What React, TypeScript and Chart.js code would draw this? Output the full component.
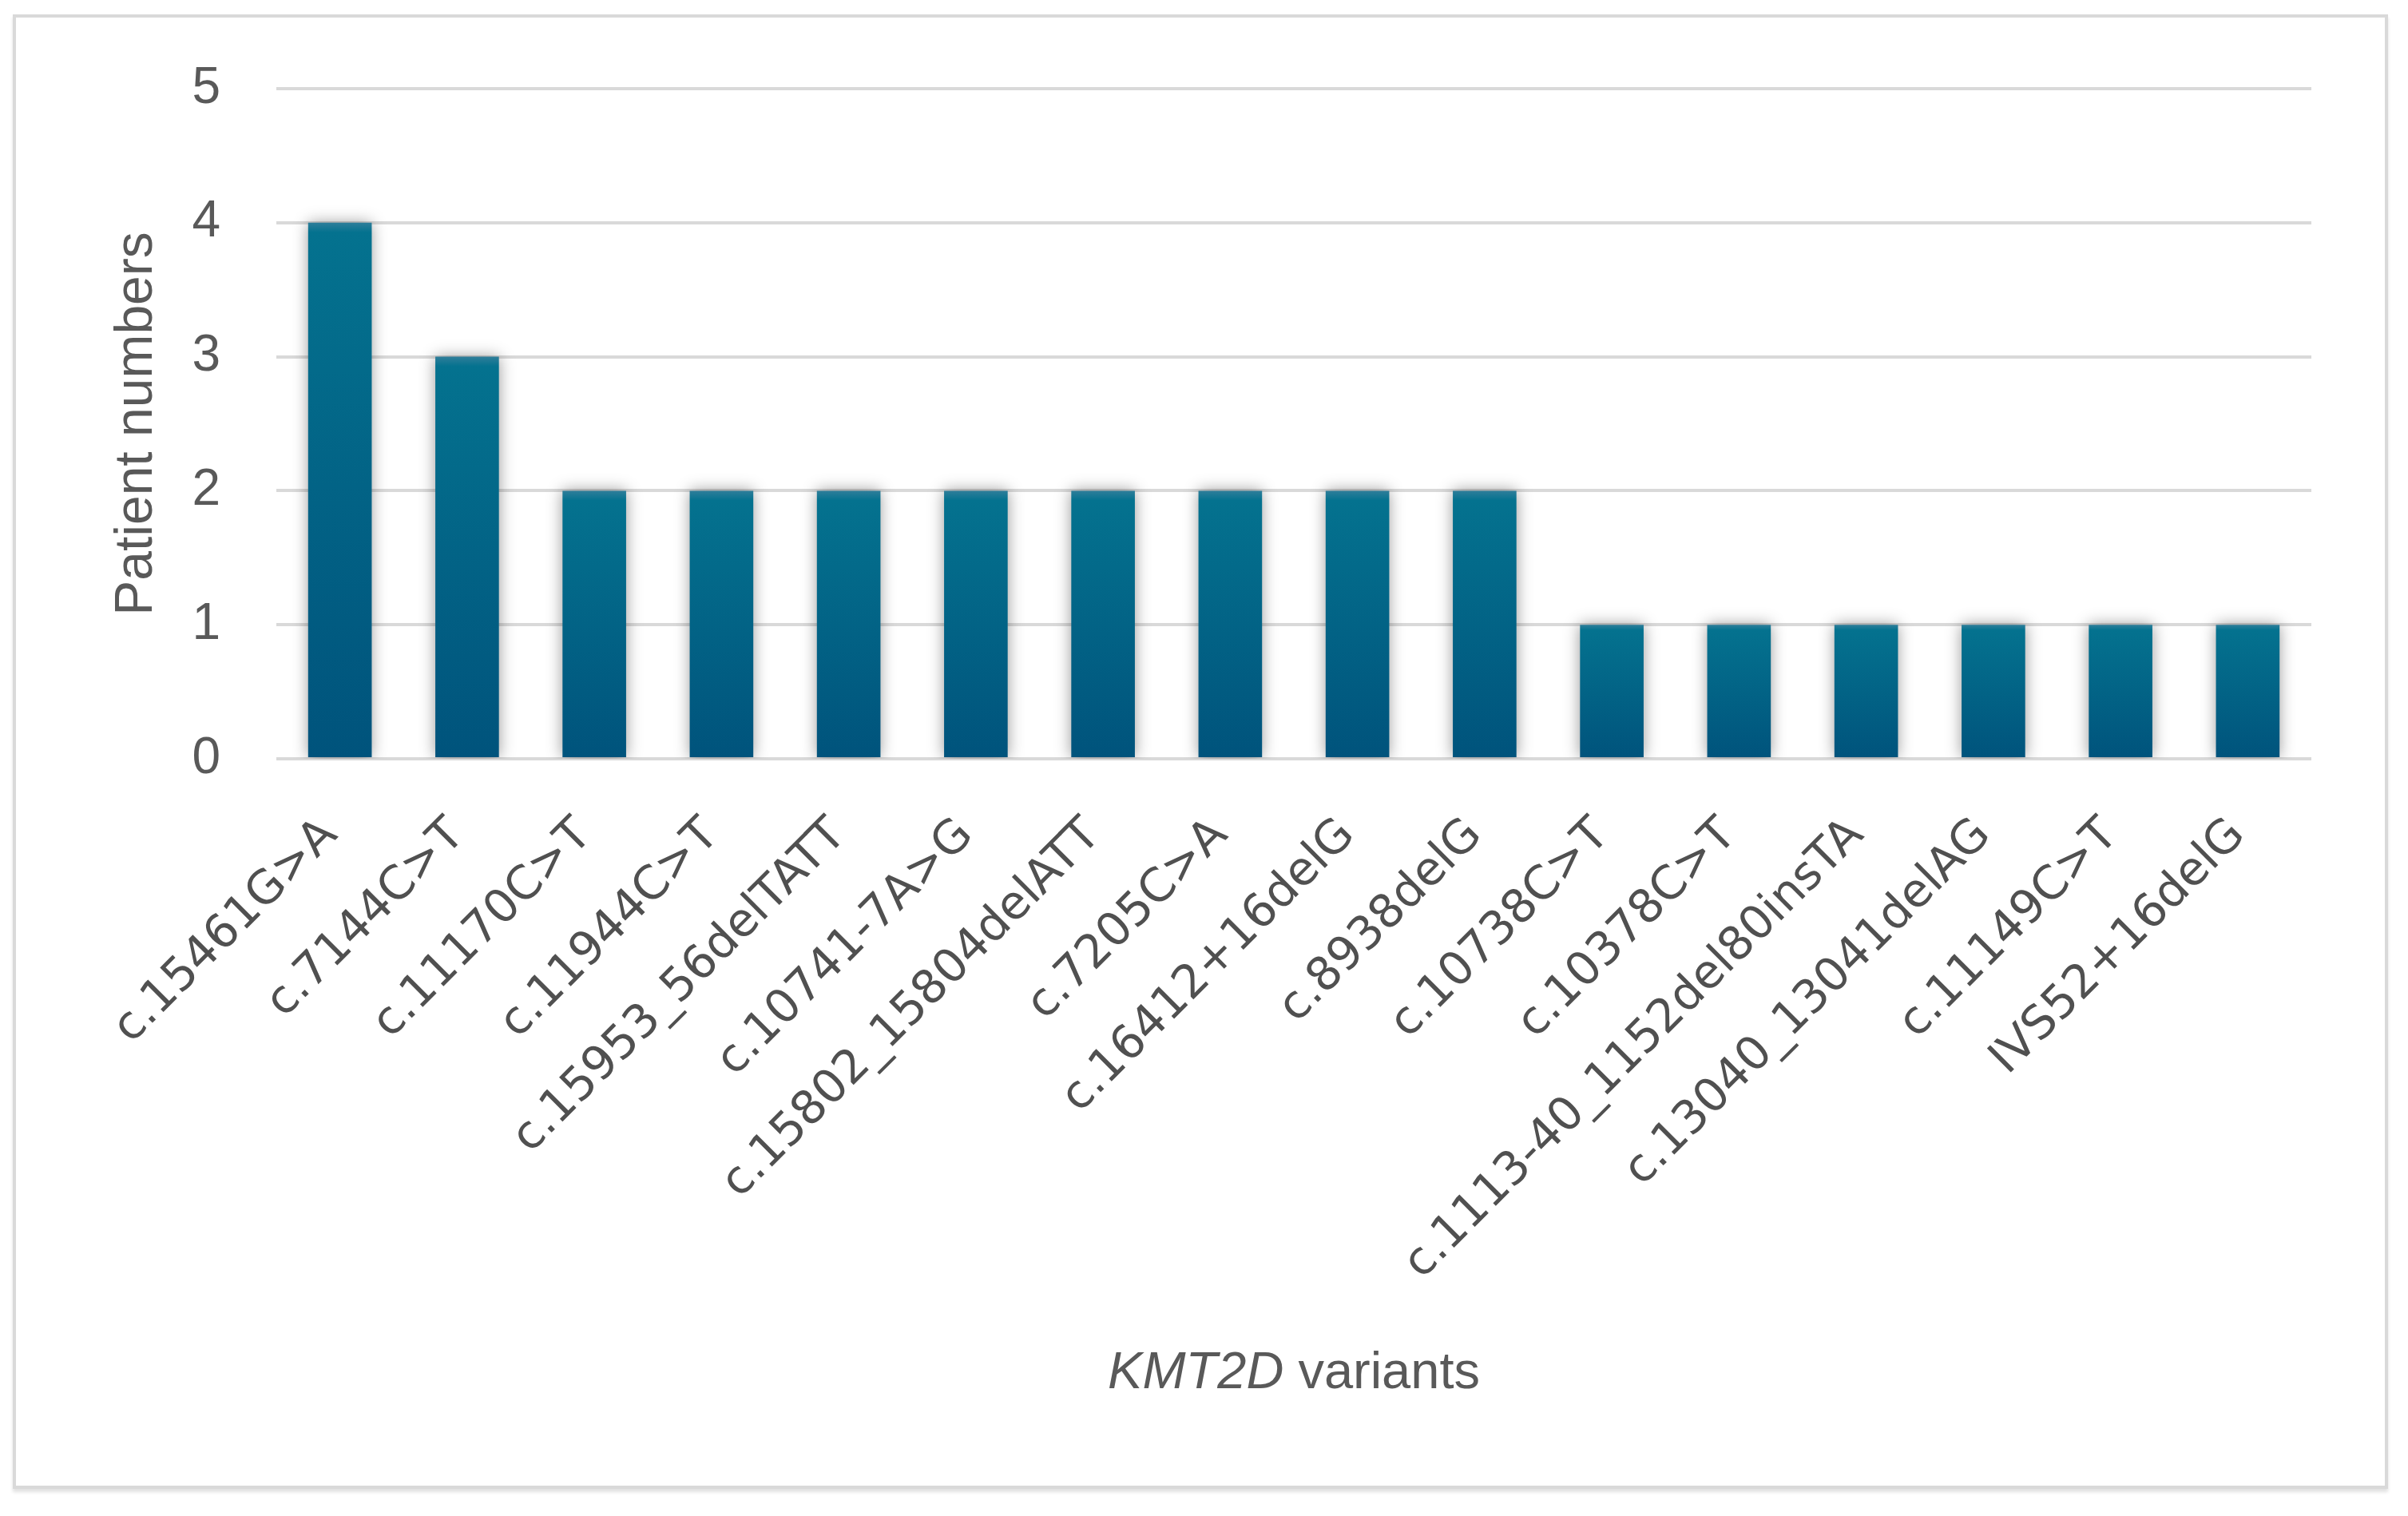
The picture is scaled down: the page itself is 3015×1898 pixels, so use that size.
import React, { useEffect, useRef } from "react";
import { Chart, registerables } from "chart.js";

Chart.register(...registerables);

const categories = [
  "c.15461G>A",
  "c.7144C>T",
  "c.11170C>T",
  "c.11944C>T",
  "c.15953_56delTATT",
  "c.10741-7A>G",
  "c.15802_15804delATT",
  "c.7205C>A",
  "c.16412+16delG",
  "c.8938delG",
  "c.10738C>T",
  "c.10378C>T",
  "c.1113-40_1152del80insTA",
  "c.13040_13041delAG",
  "c.11149C>T",
  "IVS52+16delG",
];
const patientNumbers = [4, 3, 2, 2, 2, 2, 2, 2, 2, 2, 1, 1, 1, 1, 1, 1];
const yMin = 0;
const yMax = 5;
const yStep = 1;
const yTitle = "Patient numbers";
const xTitleItalic = "KMT2D";
const xTitleRest = " variants";

export default function App() {
  const ref = useRef<HTMLCanvasElement>(null);

  useEffect(() => {
    if (!ref.current) return;

    const shadowPlugin = {
      id: "barShadow",
      beforeDatasetsDraw(chart: any) {
        const c = chart.ctx;
        c.save();
        c.shadowColor = "rgba(0,0,0,0.4)";
        c.shadowBlur = 18;
        c.shadowOffsetX = 0;
        c.shadowOffsetY = 0;
      },
      afterDatasetsDraw(chart: any) {
        chart.ctx.restore();
      },
    };

    const xTitlePlugin = {
      id: "xTitleMixed",
      afterDraw(chart: any) {
        const { ctx, chartArea } = chart;
        const italic = 'italic 65px "Liberation Sans", Arial, sans-serif';
        const normal = '65px "Liberation Sans", Arial, sans-serif';
        ctx.save();
        ctx.fillStyle = "#595959";
        ctx.textBaseline = "alphabetic";
        ctx.textAlign = "left";
        ctx.font = italic;
        const w1 = ctx.measureText(xTitleItalic).width;
        ctx.font = normal;
        const w2 = ctx.measureText(xTitleRest).width;
        const cx = (chartArea.left + chartArea.right) / 2;
        const x0 = cx - (w1 + w2) / 2;
        const y = chartArea.bottom + 788;
        ctx.font = italic;
        ctx.fillText(xTitleItalic, x0, y);
        ctx.font = normal;
        ctx.fillText(xTitleRest, x0 + w1, y);
        ctx.restore();
      },
    };

    const chart = new Chart(ref.current, {
      type: "bar",
      data: {
        labels: categories,
        datasets: [
          {
            data: patientNumbers,
            categoryPercentage: 1,
            barPercentage: 0.5,
            borderWidth: 0,
            backgroundColor: (c: any) => {
              const ch = c.chart;
              if (!ch.chartArea || c.raw === undefined) return "#03688c";
              const ys = ch.scales.y;
              const top = ys.getPixelForValue(c.raw);
              const base = ys.getPixelForValue(0);
              const g = ch.ctx.createLinearGradient(0, top, 0, base);
              g.addColorStop(0, "#2f7e9a");
              g.addColorStop(Math.min(0.04, 12 / Math.max(1, base - top)), "#04728f");
              g.addColorStop(1, "#00537c");
              return g;
            },
          },
        ],
      },
      options: {
        animation: false,
        responsive: true,
        maintainAspectRatio: false,
        layout: {
          padding: { left: 100, top: 111, right: 121, bottom: 48 },
        },
        plugins: {
          legend: { display: false },
          tooltip: { enabled: false },
        },
        scales: {
          x: {
            grid: { display: false, drawTicks: false },
            border: { display: false },
            ticks: {
              autoSkip: false,
              minRotation: 45,
              maxRotation: 45,
              padding: 62,
              labelOffset: -12,
              color: "#505050",
              font: { family: '"DejaVu Sans", Verdana, sans-serif', size: 58 },
            },
            afterFit: (s: any) => {
              s.height = 900;
            },
          },
          y: {
            min: yMin,
            max: yMax,
            ticks: {
              stepSize: yStep,
              padding: 70,
              color: "#595959",
              font: { family: '"Liberation Sans", Arial, sans-serif', size: 64 },
            },
            grid: { color: "#d9d9d9", lineWidth: 4, drawTicks: false },
            border: { display: false },
            title: {
              display: true,
              text: yTitle,
              color: "#595959",
              padding: { top: 32, bottom: 0 },
              font: { family: '"Liberation Sans", Arial, sans-serif', size: 66 },
            },
            afterFit: (s: any) => {
              s.width = 246;
            },
          },
        },
      },
      plugins: [shadowPlugin, xTitlePlugin],
    });

    return () => chart.destroy();
  }, []);

  return (
    <div
      style={{
        position: "absolute",
        left: 0,
        top: 0,
        width: 3015,
        height: 1898,
        background: "#ffffff",
      }}
    >
      <div
        style={{
          position: "absolute",
          left: 16,
          top: 18,
          width: 2974,
          height: 1846,
          border: "4px solid #d9d9d9",
          boxSizing: "border-box",
          boxShadow: "0 4px 4px rgba(0,0,0,0.12)",
        }}
      />
      <canvas
        ref={ref}
        style={{ position: "absolute", left: 0, top: 0, width: 3015, height: 1898 }}
      />
    </div>
  );
}
